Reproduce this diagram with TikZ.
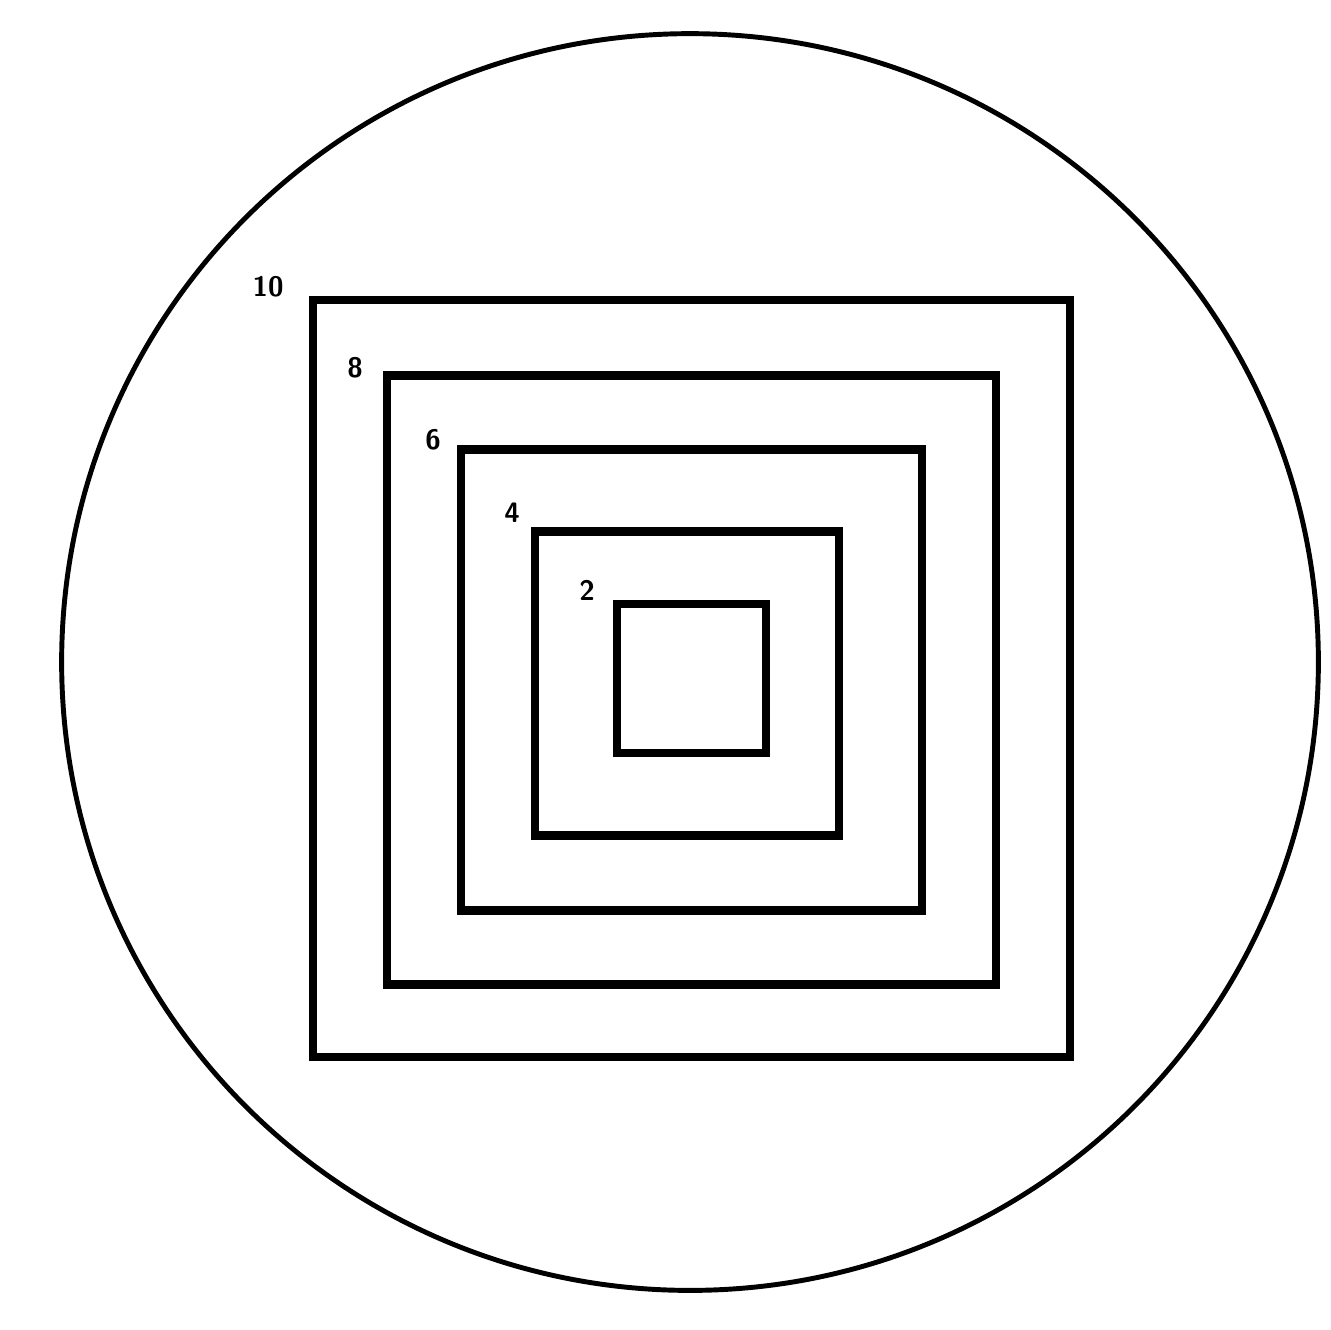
\documentclass[tikz,border=0pt]{standalone}
\begin{document}
\begin{tikzpicture}[x=0.01cm,y=-0.01cm,
  sq/.style={draw=black,line width=2.3pt,minimum width=#1*0.01cm,minimum height=#1*0.01cm,inner sep=0pt,outer sep=0pt},
  lab/.style={font=\sffamily\bfseries\fontsize{8}{9}\selectfont,inner sep=0pt}]
\useasboundingbox (0,0) rectangle (1331,1329);
\node[draw=black,line width=1.4pt,circle,minimum size=12.56cm,inner sep=0pt] (circ) at (690,662) {};
\node[sq=757] (s10) at (691.5,678.5) {};
\node[sq=609] (s8) at (691.5,680) {};
\node[sq=461] (s6) at (691.5,680) {};
\node[sq=304] (s4) at (687,683.5) {};
\node[sq=149] (s2) at (691.5,678.5) {};
\node[lab] (l10) at (268,287) {10};
\node[lab] (l8) at (355,368) {8};
\node[lab] (l6) at (433,440) {6};
\node[lab] (l4) at (512,513) {4};
\node[lab] (l2) at (587,590) {2};
\end{tikzpicture}
\end{document}
